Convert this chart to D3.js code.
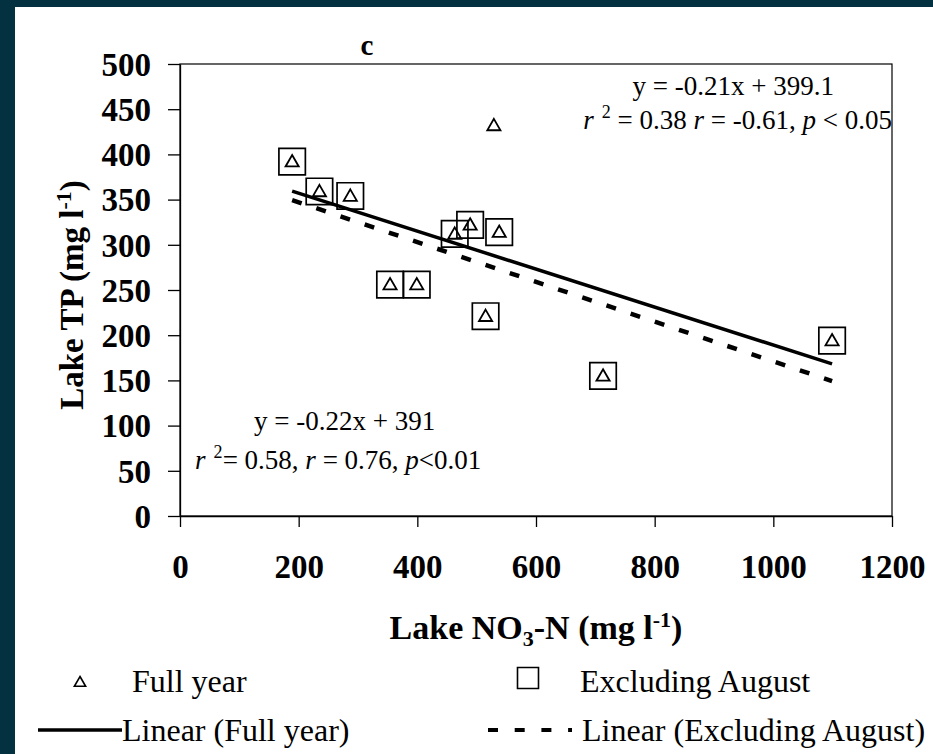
<!DOCTYPE html>
<meta charset="utf-8">
<style>
body { margin: 0; background: #04313f; }
svg { display: block; }
text { font-family: "Liberation Serif", "Times New Roman", serif; fill: #000; }
.tick text { font-weight: bold; font-size: 33px; }
.axis path, .axis line { stroke: #000; stroke-width: 1.3; }
.ann { font-size: 27px; }
.leg { font-size: 32px; }
</style>
<body>
<script src="https://cdn.jsdelivr.net/npm/d3@7/dist/d3.min.js"></script>
<script>

// data
var fullX = [189, 235, 287, 354, 399, 463, 489, 515, 529, 538, 713, 1099];
var fullY = [392, 359, 354, 256, 256, 312, 322, 221, 432, 314, 155, 194];
var exclX = [189, 235, 287, 354, 399, 463, 489, 515, 538, 713, 1099];
var exclY = [392, 359, 354, 256, 256, 312, 322, 221, 314, 155, 194];

// fitted lines: [slope, intercept]
var fitFull = [-0.21, 399.1];
var fitExcl = [-0.22, 391];

var xTicks = [0, 200, 400, 600, 800, 1000, 1200];
var yTicks = [0, 50, 100, 150, 200, 250, 300, 350, 400, 450, 500];

var W = 933, H = 754;

var svg = d3.select("body").append("svg")
    .attr("width", W)
    .attr("height", H);

// white panel
svg.append("rect")
    .attr("x", 15).attr("y", 7)
    .attr("width", W - 15).attr("height", H - 7)
    .attr("fill", "#fff");

var x = d3.scaleLinear().domain([0, 1200]).range([180, 892]);
var y = d3.scaleLinear().domain([0, 500]).range([516, 64]);

// plot frame
svg.append("rect")
    .attr("x", x(0)).attr("y", y(500))
    .attr("width", x(1200) - x(0)).attr("height", y(0) - y(500))
    .attr("fill", "none")
    .attr("stroke", "#000")
    .attr("stroke-width", 1.2);

// axes
svg.append("g")
    .attr("class", "axis")
    .attr("transform", "translate(" + x(0) + ",0)")
    .call(d3.axisLeft(y).tickValues(yTicks).tickSize(12).tickSizeOuter(0).tickPadding(17))
    .selectAll("text").attr("dy", "0.34em");

svg.append("g")
    .attr("class", "axis")
    .attr("transform", "translate(0," + y(0) + ")")
    .call(d3.axisBottom(x).tickValues(xTicks).tickFormat(d3.format("d")).tickSize(11).tickSizeOuter(0))
    .selectAll("text").attr("y", 62).attr("dy", 0);

// trend lines
function fitLine(xs, fit) {
  var ext = d3.extent(xs);
  return ext.map(function(v) { return [v, fit[0] * v + fit[1]]; });
}
var line = d3.line()
    .x(function(d) { return x(d[0]); })
    .y(function(d) { return y(d[1]); });

svg.append("path")
    .datum(fitLine(fullX, fitFull))
    .attr("d", line)
    .attr("fill", "none")
    .attr("stroke", "#000")
    .attr("stroke-width", 3.5);

svg.append("path")
    .datum(fitLine(exclX, fitExcl))
    .attr("d", line)
    .attr("fill", "none")
    .attr("stroke", "#000")
    .attr("stroke-width", 4.5)
    .attr("stroke-dasharray", "10,15.5");

// markers
var sq = d3.symbol().type(d3.symbolSquare).size(700);
var tri = d3.symbol().type(d3.symbolTriangle).size(75);

svg.append("g").selectAll("path")
    .data(d3.range(exclX.length))
    .enter().append("path")
    .attr("transform", function(i) { return "translate(" + x(exclX[i]) + "," + y(exclY[i]) + ")"; })
    .attr("d", sq)
    .attr("fill", "none")
    .attr("stroke", "#000")
    .attr("stroke-width", 1.7);

svg.append("g").selectAll("path")
    .data(d3.range(fullX.length))
    .enter().append("path")
    .attr("transform", function(i) { return "translate(" + x(fullX[i]) + "," + (y(fullY[i]) + 1) + ")"; })
    .attr("d", tri)
    .attr("fill", "none")
    .attr("stroke", "#000")
    .attr("stroke-width", 1.8);

// panel letter
svg.append("text")
    .attr("x", 367).attr("y", 55)
    .attr("text-anchor", "middle")
    .style("font-weight", "bold").style("font-size", "29px")
    .text("c");

// axis titles
var yt = svg.append("text")
    .attr("transform", "translate(83,295) rotate(-90)")
    .attr("text-anchor", "middle")
    .style("font-weight", "bold").style("font-size", "33px");
yt.append("tspan").text("Lake TP (mg l");
yt.append("tspan").attr("dy", -12).style("font-size", "22px").text("-1");
yt.append("tspan").attr("dy", 12).text(")");

var xt = svg.append("text")
    .attr("x", 536).attr("y", 639)
    .attr("text-anchor", "middle")
    .style("font-weight", "bold").style("font-size", "34px");
xt.append("tspan").text("Lake NO");
xt.append("tspan").attr("dy", 7).style("font-size", "22px").text("3");
xt.append("tspan").attr("dy", -7).text("-N (mg l");
xt.append("tspan").attr("dy", -12).style("font-size", "22px").text("-1");
xt.append("tspan").attr("dy", 12).text(")");

// fit annotations
function rLine(xp, yp, anchor, parts) {
  var t = svg.append("text").attr("class", "ann")
      .attr("x", xp).attr("y", yp).attr("text-anchor", anchor);
  parts.forEach(function(p) {
    var s = t.append("tspan").text(p[0]);
    if (p[1] === "i") s.style("font-style", "italic");
    if (p[1] === "sup") s.attr("dy", -11).style("font-size", "18px");
    if (p[1] === "down") s.attr("dy", 11);
  });
}

svg.append("text").attr("class", "ann").attr("x", 834).attr("y", 95)
    .attr("text-anchor", "end")
    .text("y = -0.21x + 399.1");
rLine(892, 129, "end", [["r", "i"], ["\u2009 2", "sup"], [" = 0.38 ", "down"], ["r", "i"],
    [" = -0.61, "], ["p", "i"], [" < 0.05"]]);

svg.append("text").attr("class", "ann").attr("x", 254).attr("y", 430)
    .text("y = -0.22x + 391");
rLine(195, 469, "start", [["r", "i"], ["\u2009 2", "sup"], ["= 0.58, ", "down"], ["r", "i"],
    [" = 0.76, "], ["p", "i"], ["<0.01"]]);

// legend
svg.append("path")
    .attr("transform", "translate(80,683)")
    .attr("d", d3.symbol().type(d3.symbolTriangle).size(55))
    .attr("fill", "none").attr("stroke", "#000").attr("stroke-width", 1.6);
svg.append("text").attr("class", "leg").attr("x", 132).attr("y", 692).text("Full year");

svg.append("path")
    .attr("transform", "translate(528,678)")
    .attr("d", d3.symbol().type(d3.symbolSquare).size(441))
    .attr("fill", "none").attr("stroke", "#000").attr("stroke-width", 1.6);
svg.append("text").attr("class", "leg").attr("x", 580).attr("y", 692).text("Excluding August");

svg.append("line")
    .attr("x1", 38).attr("x2", 122).attr("y1", 730).attr("y2", 730)
    .attr("stroke", "#000").attr("stroke-width", 3.5);
svg.append("text").attr("class", "leg").attr("x", 122).attr("y", 741).text("Linear (Full year)");

svg.append("line")
    .attr("x1", 488).attr("x2", 572).attr("y1", 730).attr("y2", 730)
    .attr("stroke", "#000").attr("stroke-width", 4)
    .attr("stroke-dasharray", "10,16.7");
svg.append("text").attr("class", "leg").attr("x", 582).attr("y", 741).text("Linear (Excluding August)");

</script>
</body>
